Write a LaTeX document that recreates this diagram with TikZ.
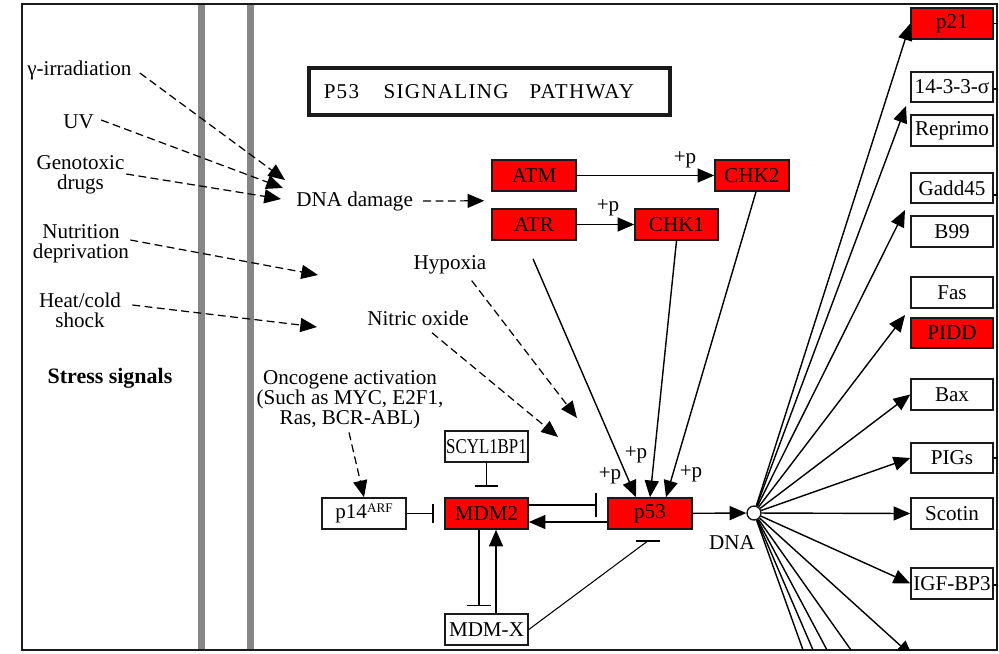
\documentclass[tikz,border=0pt]{standalone}
\usepackage{fontspec}
\setmainfont{Liberation Serif}
\usepackage{graphicx}
\usetikzlibrary{arrows.meta,calc}
\definecolor{keggred}{HTML}{FF0000}
\definecolor{bargray}{HTML}{868686}
\definecolor{ink}{HTML}{1A1A1A}

\begin{document}
\begin{tikzpicture}[x=0.02cm,y=-0.02cm,
  every node/.style={font=\fontsize{12}{11.3}\selectfont, text=black},
  gene/.style={draw=ink, line width=0.9pt, minimum height=0.62cm, inner sep=0pt, fill=white},
  hit/.style={gene, fill=keggred},
  rbox/.style={gene, minimum width=1.64cm, minimum height=0.61cm},
  lbl/.style={inner sep=0pt, align=center},
  arr/.style={line width=0.8pt, -{Triangle[length=9.5pt,width=8pt]}},
  darr/.style={line width=0.7pt, dash pattern=on 4.5pt off 2.5pt, -{Triangle[length=9.5pt,width=8pt]}},
  inh/.style={line width=0.8pt, -{Bar[width=13.5pt,line width=0.9pt]}, shorten >=6pt},
  plain/.style={line width=0.8pt},
]
\useasboundingbox (0,0) rectangle (999,653);

% membrane bars and frame
\fill[bargray] (198,4) rectangle (205,650);
\fill[bargray] (247,4) rectangle (254,650);
\draw[ink, line width=1pt] (22,4) rectangle (997,650);

% title (trailing kern pushes the lettering left of centre)
\node[draw=ink, line width=1.8pt, minimum width=7.22cm, minimum height=0.94cm, inner sep=0pt]
  (title) at (489.5,91.5) {\addfontfeatures{LetterSpace=6}P53\hspace{14pt}SIGNALING\hspace{12pt}PATHWAY\kern12pt};

% stress signals
\node[lbl, anchor=west] (gamma) at (27,70) {γ-irradiation};
\node[lbl, anchor=west] (uv) at (63,122) {UV};
\node[lbl] (geno) at (80.5,175) {Genotoxic\\drugs};
\node[lbl] (nutr) at (81,243.5) {Nutrition\\deprivation};
\node[lbl] (heat) at (80,310) {Heat/cold\\shock};
\node[lbl, font=\fontsize{12.5}{13}\selectfont\bfseries] (stress) at (110,378) {Stress signals};

\node[lbl, anchor=west] (dnad) at (296,201) {DNA damage};
\node[lbl] (hyp) at (450,265) {Hypoxia};
\node[lbl] (nitric) at (418,318) {Nitric oxide};
\node[lbl] (onco) at (350,400) {Oncogene activation\\(Such as MYC, E2F1,\\Ras, BCR-ABL)};

% kinases
\node[hit, minimum width=1.68cm] (atm) at (534,175.5) {ATM};
\node[hit, minimum width=1.68cm] (atr) at (534,224.5) {ATR};
\node[hit, minimum width=1.66cm] (chk1) at (676.5,224.5) {CHK1};
\node[hit, minimum width=1.48cm] (chk2) at (752,175.5) {CHK2};

% p53 core loop
\node[hit, minimum width=1.68cm] (p53) at (650,513.5) {p53};
\node[hit, minimum width=1.66cm] (mdm2) at (486.5,513.5) {MDM2};
\node[gene, minimum width=1.68cm] (p14) at (364,513.5) {p14\raisebox{3pt}{\fontsize{7.5}{7.5}\selectfont ARF}};
\node[gene, minimum width=1.66cm] (scyl) at (486.5,446.5) {\scalebox{0.8}[1]{SCYL1BP1}};
\node[gene, minimum width=1.66cm] (mdmx) at (486.5,629.5) {MDM-X};

\node[draw=ink, fill=white, circle, minimum size=0.28cm, inner sep=0pt, line width=0.8pt] (dnac) at (754,513) {};
\node[lbl] (dnalbl) at (732,543) {DNA};

% target genes
\node[rbox, fill=keggred] (p21) at (952,23.5) {p21};
\node[rbox] (s1433) at (952,87) {14-3-3-σ};
\node[rbox] (reprimo) at (952,130.5) {Reprimo};
\node[rbox] (gadd) at (952,188) {Gadd45};
\node[rbox] (b99) at (952,231.5) {B99};
\node[rbox] (fas) at (952,292.5) {Fas};
\node[rbox, fill=keggred] (pidd) at (952,333) {PIDD};
\node[rbox] (bax) at (952,394.5) {Bax};
\node[rbox] (pigs) at (952,458) {PIGs};
\node[rbox] (scotin) at (952,513.5) {Scotin};
\node[rbox] (igfbp3) at (952,583.5) {IGF-BP3};

% links leaving to the right edge
\draw[plain] (p21.east) -- ++(4,0);
\draw[plain] ($(s1433.east)+(0,2)$) -- ++(4,0);
\draw[plain] ($(gadd.east)+(0,7)$) -- ++(4,0);
\draw[plain] (pigs.east) -- ++(4,0);
\draw[plain] ($(igfbp3.east)+(0,1.5)$) -- ++(4,0);

% free arrow ends
\coordinate (nutend) at (318,275);
\coordinate (heatend) at (317,327);
\coordinate (hypend) at (577,418);
\coordinate (noend) at (558,437);

% stress inputs
\draw[darr] ($(gamma.east)+(8,3)$) -- ($(dnad.west)+(-11,-21)$);
\draw[darr] ($(uv.east)+(7,-2)$) -- ($(dnad.west)+(-13,-13)$);
\draw[darr] ($(geno.east)+(1.5,-1)$) -- ($(dnad.west)+(-15,-2)$);
\draw[darr] ($(nutr.east)+(1,-3.5)$) -- (nutend);
\draw[darr] ($(heat.east)+(11,-5)$) -- (heatend);
\draw[darr] ($(dnad.east)+(10,0)$) -- ($(atm.south west)+(-7,9)$);
\draw[darr] ($(hyp.south east)+(-15,6)$) -- (hypend);
\draw[darr] ($(nitric.south)+(14,7)$) -- (noend);
\draw[darr] ($(onco.south)+(-1,3)$) -- (p14.north);

% phosphorylation cascade
\draw[arr] (atm) -- (chk2);
\node (pA) at (685,160) {+p};
\draw[arr] (atr) -- (chk1);
\node (pB) at (608,208) {+p};
\draw[arr] ($(atr.south)+(-1,18)$) -- ($(p53.north)+(-14,0)$);
\draw[arr] (chk1.south) -- (p53.north);
\draw[arr] ($(chk2.south)+(4,0)$) -- ($(p53.north)+(16,0)$);
\node (pC) at (610,476) {+p};
\node (pD) at (636,455) {+p};
\node (pE) at (691,474) {+p};

% MDM2 regulation
\draw[inh, -{Bar[width=11pt,line width=0.9pt]}] (p14) -- (mdm2);
\draw[inh] (scyl) -- (mdm2);
\draw[inh, shorten >=4pt] ($(mdm2.south)+(-7.5,0)$) -- ($(mdmx.north)+(-7.5,0)$);
\draw[arr] ($(mdmx.north)+(9.5,0)$) -- ($(mdm2.south)+(9.5,0)$);
\draw[inh] ($(mdm2.east)+(0,-8.5)$) -- ($(p53.west)+(0,-8.5)$);
\draw[arr] ($(p53.west)+(0,8.5)$) -- ($(mdm2.east)+(0,8.5)$);
\coordinate (p53foot) at ($(p53.south)+(-2,11)$);
\draw[line width=0.6pt] (mdmx.east) -- (p53foot);
\draw[line width=0.9pt] ($(p53foot)+(-12,0)$) -- ($(p53foot)+(12,0)$);

% transcription
\draw[arr] (p53) -- (dnac);
\coordinate (t1433) at (906,106);
\coordinate (tgadd) at (905,210);
\coordinate (tfas) at (905,315);
\coordinate (tlow) at (913,657);
\coordinate (b1) at (803,650);
\coordinate (b2) at (813,650);
\coordinate (b3) at (827,650);
\coordinate (b4) at (851,650);
\begin{scope}
  \clip (22,4) rectangle (997,650);
  \draw[arr] (dnac) -- (p21.west);
  \draw[arr] (dnac) -- (t1433);
  \draw[arr] (dnac) -- (tgadd);
  \draw[arr] (dnac) -- (tfas);
  \draw[arr] (dnac) -- (bax.west);
  \draw[arr] (dnac) -- (pigs.west);
  \draw[arr] (dnac) -- (scotin.west);
  \draw[arr] (dnac) -- (igfbp3.west);
  \draw[arr] (dnac) -- (tlow);
  \draw[plain] (dnac) -- (b1);
  \draw[plain] (dnac) -- (b2);
  \draw[plain] (dnac) -- (b3);
  \draw[plain] (dnac) -- (b4);
\end{scope}
\end{tikzpicture}
\end{document}
